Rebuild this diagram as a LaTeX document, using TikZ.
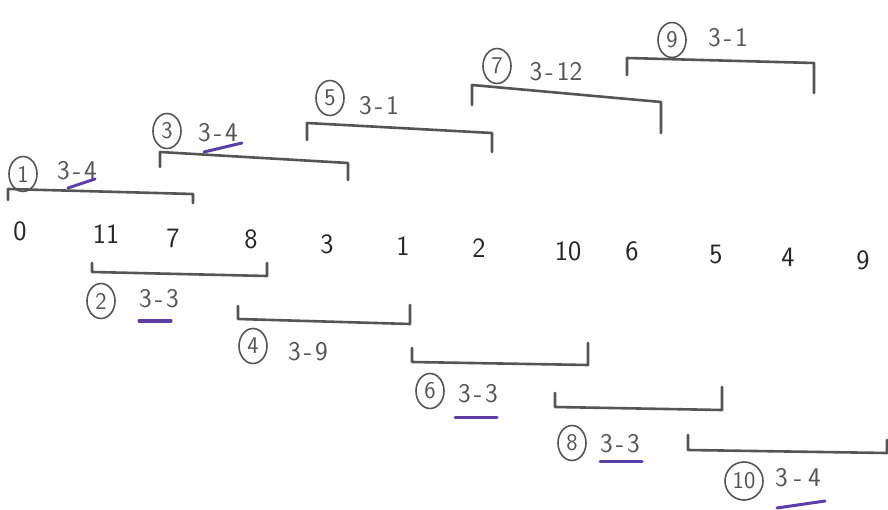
\documentclass[tikz,border=0pt]{standalone}
\usepackage{fontspec}
\usetikzlibrary{shapes.geometric}
\definecolor{pencil}{HTML}{555555}
\definecolor{pen}{HTML}{5B3FA6}
\newcommand{\dsh}[2]{#1\kern3pt-\kern3pt#2}
\begin{document}
\begin{tikzpicture}[x=1pt,y=-1pt,
  num/.style={font=\fontsize{28}{30}\selectfont\sffamily, text=black!85, inner sep=0pt},
  lab/.style={font=\fontsize{27}{29}\selectfont\sffamily, text=pencil, inner sep=0pt},
  circ/.style={draw=pencil, line width=1.6pt, ellipse, inner sep=0pt, minimum width=28pt, minimum height=35pt,
    font=\fontsize{24}{26}\selectfont\sffamily, text=pencil},
  brk/.style={draw=pencil, line width=2.6pt, line cap=round, line join=round},
  uline/.style={draw=pen, line width=3pt, line cap=round}]
\fill[white] (0,0) rectangle (888,510);
\useasboundingbox (0,0) rectangle (888,510);
% number row
\foreach \v/\x/\y [count=\i] in {0/20/231,11/106/234,7/173/238,8/251/239,3/327/244,1/403/246,2/479/248,10/568/251,6/632/251,5/716/255,4/788/257,9/863/260}
  \node[num] (n\i) at (\x,\y) {\v};
% upper brackets
\draw[brk] (8,200) -- (8,189) -- (193,194) -- (193,203);
\node[circ] (c1) at (23,174) {1};
\node[lab] (t1) at (77,171) {\dsh{3}{4}};
\draw[uline] (68,188) -- (95,179);

\draw[brk] (160,167) -- (160,152) -- (348,163) -- (348,180);
\node[circ] (c3) at (167,131) {3};
\node[lab] (t3) at (218,133) {\dsh{3}{4}};
\draw[uline] (204,152) -- (242,143);

\draw[brk] (307,140) -- (307,123) -- (492,133) -- (492,152);
\node[circ] (c5) at (330,98) {5};
\node[lab] (t5) at (379,106) {\dsh{3}{1}};

\draw[brk] (472,105) -- (472,85) -- (661,102) -- (661,133);
\node[circ] (c7) at (497,66) {7};
\node[lab] (t7) at (556,72) {\dsh{3}{12}};

\draw[brk] (627,75) -- (627,58) -- (814,63) -- (814,93);
\node[circ] (c9) at (672,40) {9};
\node[lab] (t9) at (728,38) {\dsh{3}{1}};

% lower brackets
\draw[brk] (92,263) -- (92,272) -- (267,276) -- (267,263);
\node[circ] (c2) at (101,301) {2};
\node[lab] (t2) at (159,299) {\dsh{3}{3}};
\draw[uline] (139,321) -- (171,321);

\draw[brk] (238,306) -- (238,319) -- (410,324) -- (410,305);
\node[circ] (c4) at (253,346) {4};
\node[lab] (t4) at (308,352) {\dsh{3}{9}};

\draw[brk] (412,348) -- (412,362) -- (588,365) -- (588,343);
\node[circ] (c6) at (430,391) {6};
\node[lab] (t6) at (478,394) {\dsh{3}{3}};
\draw[uline] (455,417) -- (497,417);

\draw[brk] (555,393) -- (555,407) -- (722,410) -- (722,387);
\node[circ] (c8) at (572,443) {8};
\node[lab] (t8) at (620,444) {\dsh{3}{3}};
\draw[uline] (600,461) -- (642,461);

\draw[brk] (688,435) -- (688,450) -- (887,453) -- (887,440);
\node[circ, minimum width=38pt, minimum height=38pt] (c10) at (744,481) {10};
\node[lab] (t10) at (798,478) {3\kern6pt-\kern6pt4};
\draw[uline] (777,508) -- (825,501);
\end{tikzpicture}
\end{document}
